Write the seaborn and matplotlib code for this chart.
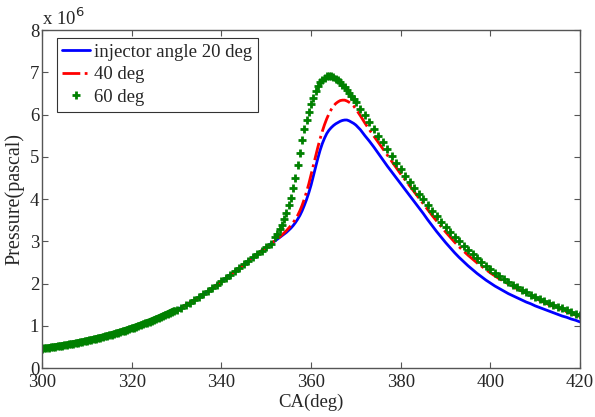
import numpy as np
import pandas as pd
import matplotlib
matplotlib.use("Agg")
import matplotlib.pyplot as plt
import seaborn as sns

# crank angle (deg) and pressure (x 10^6 Pa)
# compression part, all three cases lie on top of each other
ca_comp = [300.0, 300.5, 301.0, 301.5, 302.0, 302.5, 303.0, 303.5, 304.0, 304.5,
           305.0, 305.5, 306.0, 306.5, 307.0, 307.5, 308.0, 308.5, 309.0, 309.5,
           310.0, 310.5, 311.0, 311.5, 312.0, 312.5, 313.0, 313.5, 314.0, 314.5,
           315.0, 315.5, 316.0, 316.5, 317.0, 317.5, 318.0, 318.5, 319.0, 319.5,
           320.0, 320.5, 321.0, 321.5, 322.0, 322.5, 323.0, 323.5, 324.0, 324.5,
           325.0, 325.5, 326.0, 326.5, 327.0, 327.5, 328.0, 328.5, 329.0, 329.5,
           330, 331, 332, 333, 334, 335, 336, 337, 338, 339, 340,
           341, 342, 343, 344, 345, 346, 347, 348, 349, 350, 351]
p_comp = [0.460, 0.467, 0.475, 0.482, 0.490, 0.498, 0.506, 0.514, 0.522, 0.531,
          0.540, 0.549, 0.559, 0.568, 0.578, 0.588, 0.599, 0.609, 0.620, 0.632,
          0.644, 0.656, 0.668, 0.680, 0.693, 0.706, 0.719, 0.732, 0.746, 0.760,
          0.775, 0.790, 0.805, 0.821, 0.837, 0.853, 0.870, 0.887, 0.904, 0.922,
          0.940, 0.958, 0.977, 0.996, 1.015, 1.035, 1.055, 1.075, 1.096, 1.117,
          1.139, 1.161, 1.184, 1.207, 1.231, 1.255, 1.279, 1.304, 1.329, 1.355,
          1.38, 1.43, 1.49, 1.55, 1.61, 1.68, 1.75, 1.82, 1.89, 1.97, 2.05,
          2.13, 2.21, 2.29, 2.37, 2.45, 2.54, 2.62, 2.70, 2.78, 2.86, 2.94]

# combustion part
ca_comb = [352.0, 352.5, 353.0, 353.5, 354.0, 354.5, 355.0, 355.5, 356.0, 356.5,
           357.0, 357.5, 358.0, 358.5, 359.0, 359.5, 360.0, 360.5, 361.0, 361.5,
           362.0, 362.5, 363.0, 363.5, 364.0, 364.5, 365.0, 365.5, 366.0, 366.5,
           367.0, 367.5, 368.0, 368.5, 369.0, 369.5, 370.0,
           371, 372, 373, 374, 375, 376, 377, 378, 379, 380,
           381, 382, 383, 384, 385, 386, 387, 388, 389, 390,
           391, 392, 393, 394, 395, 396, 397, 398, 399, 400,
           401, 402, 403, 404, 405, 406, 407, 408, 409, 410,
           411, 412, 413, 414, 415, 416, 417, 418, 419, 420]
p_20deg = [3.01, 3.05, 3.09, 3.13, 3.17, 3.21, 3.26, 3.31, 3.37, 3.44,
           3.52, 3.61, 3.72, 3.85, 3.99, 4.15, 4.33, 4.54, 4.75, 4.96,
           5.15, 5.31, 5.44, 5.55, 5.63, 5.69, 5.74, 5.78, 5.81, 5.84,
           5.86, 5.87, 5.87, 5.85, 5.82, 5.79, 5.75,
           5.64, 5.50, 5.37, 5.23, 5.08, 4.93, 4.78, 4.64, 4.50, 4.36,
           4.22, 4.08, 3.94, 3.80, 3.66, 3.51, 3.37, 3.23, 3.10, 2.97,
           2.85, 2.73, 2.62, 2.52, 2.42, 2.33, 2.24, 2.16, 2.08, 2.01,
           1.94, 1.88, 1.82, 1.76, 1.71, 1.66, 1.61, 1.56, 1.52, 1.47,
           1.43, 1.39, 1.35, 1.31, 1.27, 1.23, 1.20, 1.16, 1.13, 1.09]
p_40deg = [3.02, 3.06, 3.10, 3.15, 3.20, 3.25, 3.31, 3.37, 3.44, 3.52,
           3.61, 3.72, 3.85, 4.00, 4.17, 4.36, 4.57, 4.79, 5.01, 5.22,
           5.42, 5.60, 5.76, 5.90, 6.02, 6.12, 6.20, 6.26, 6.30, 6.33,
           6.34, 6.34, 6.32, 6.29, 6.25, 6.20, 6.13,
           5.97, 5.80, 5.64, 5.49, 5.34, 5.19, 5.04, 4.89, 4.74, 4.59,
           4.45, 4.31, 4.17, 4.03, 3.89, 3.75, 3.61, 3.48, 3.35, 3.22,
           3.10, 2.98, 2.87, 2.77, 2.67, 2.58, 2.49, 2.41, 2.33, 2.25,
           2.18, 2.11, 2.05, 1.99, 1.93, 1.87, 1.82, 1.77, 1.70, 1.65,
           1.60, 1.55, 1.50, 1.46, 1.42, 1.37, 1.33, 1.29, 1.25, 1.22]
p_60deg = [3.10, 3.18, 3.28, 3.38, 3.52, 3.68, 3.85, 4.03, 4.25, 4.50,
           4.80, 5.10, 5.40, 5.66, 5.88, 6.07, 6.24, 6.40, 6.55, 6.67,
           6.76, 6.82, 6.87, 6.90, 6.91, 6.91, 6.88, 6.85, 6.81, 6.76,
           6.70, 6.64, 6.58, 6.51, 6.44, 6.37, 6.29,
           6.14, 5.98, 5.82, 5.66, 5.50, 5.34, 5.18, 5.02, 4.86, 4.70,
           4.55, 4.41, 4.27, 4.13, 3.99, 3.85, 3.72, 3.59, 3.46, 3.34,
           3.22, 3.11, 3.00, 2.89, 2.79, 2.69, 2.60, 2.51, 2.42, 2.34,
           2.26, 2.18, 2.11, 2.04, 1.97, 1.91, 1.85, 1.79, 1.73, 1.68,
           1.63, 1.58, 1.53, 1.49, 1.45, 1.41, 1.37, 1.33, 1.29, 1.25]

labels = ["injector angle 20 deg", "40 deg", "60 deg"]

sns.set_style("ticks")
plt.rcParams['font.family'] = ['Liberation Serif', 'DejaVu Serif']
fs = 13.5
green = "#008000"

ca = ca_comp + ca_comb
df20 = pd.DataFrame({"ca": ca, "p": p_comp + p_20deg})
df40 = pd.DataFrame({"ca": ca, "p": p_comp + p_40deg})
df60 = pd.DataFrame({"ca": ca, "p": p_comp + p_60deg})
# the finely sampled start of the 60 deg run reads as a solid band
dense = df60[df60["ca"] < 330]

fig = plt.figure(figsize=(5.95, 4.17), dpi=100)
ax = fig.add_axes([0.0706, 0.1175, 0.9044, 0.8105])

sns.lineplot(data=df20, x="ca", y="p", ax=ax, color="#0000ff", linewidth=2,
             estimator=None, sort=False, label=labels[0])
sns.lineplot(data=df40, x="ca", y="p", ax=ax, color="#ff0000", linewidth=2,
             linestyle="-.", estimator=None, sort=False, label=labels[1])
sns.lineplot(data=dense, x="ca", y="p", ax=ax, color=green, linewidth=5,
             estimator=None, sort=False, legend=False)
# seaborn gives markers a white edge by default, so set it to green
sns.lineplot(data=df60, x="ca", y="p", ax=ax, color=green, linestyle="",
             marker="+", markersize=5.5, markeredgewidth=2.0,
             markeredgecolor=green,
             estimator=None, sort=False, label=labels[2])

ax.set_xlim(300, 420)
ax.set_ylim(0, 8)
ax.set_xticks(range(300, 421, 20))
ax.set_yticks(range(0, 9))
ax.tick_params(axis="x", pad=4)
ax.tick_params(axis="y", pad=2)
ax.tick_params(direction="in", length=4, top=True, right=True,
               labelsize=fs, color="#555555")
for s in ax.spines.values():
    s.set_visible(True)
    s.set_color("#555555")
    s.set_linewidth(1)

ax.set_xlabel("CA(deg)", fontsize=fs, labelpad=2)
ax.set_ylabel("Pressure(pascal)", fontsize=14.5, labelpad=4)
ax.text(0.0, 1.003, "x 10$^6$", transform=ax.transAxes, fontsize=fs,
        ha="left", va="bottom")

leg = ax.legend(loc="upper left", bbox_to_anchor=(0.027, 0.977), fontsize=fs,
                frameon=True, fancybox=False, edgecolor="black",
                handlelength=1.5, handletextpad=0.2, borderpad=0.3,
                labelspacing=0.3, borderaxespad=0)
leg.get_frame().set_linewidth(0.8)

fig.savefig("out.png", dpi=100)
